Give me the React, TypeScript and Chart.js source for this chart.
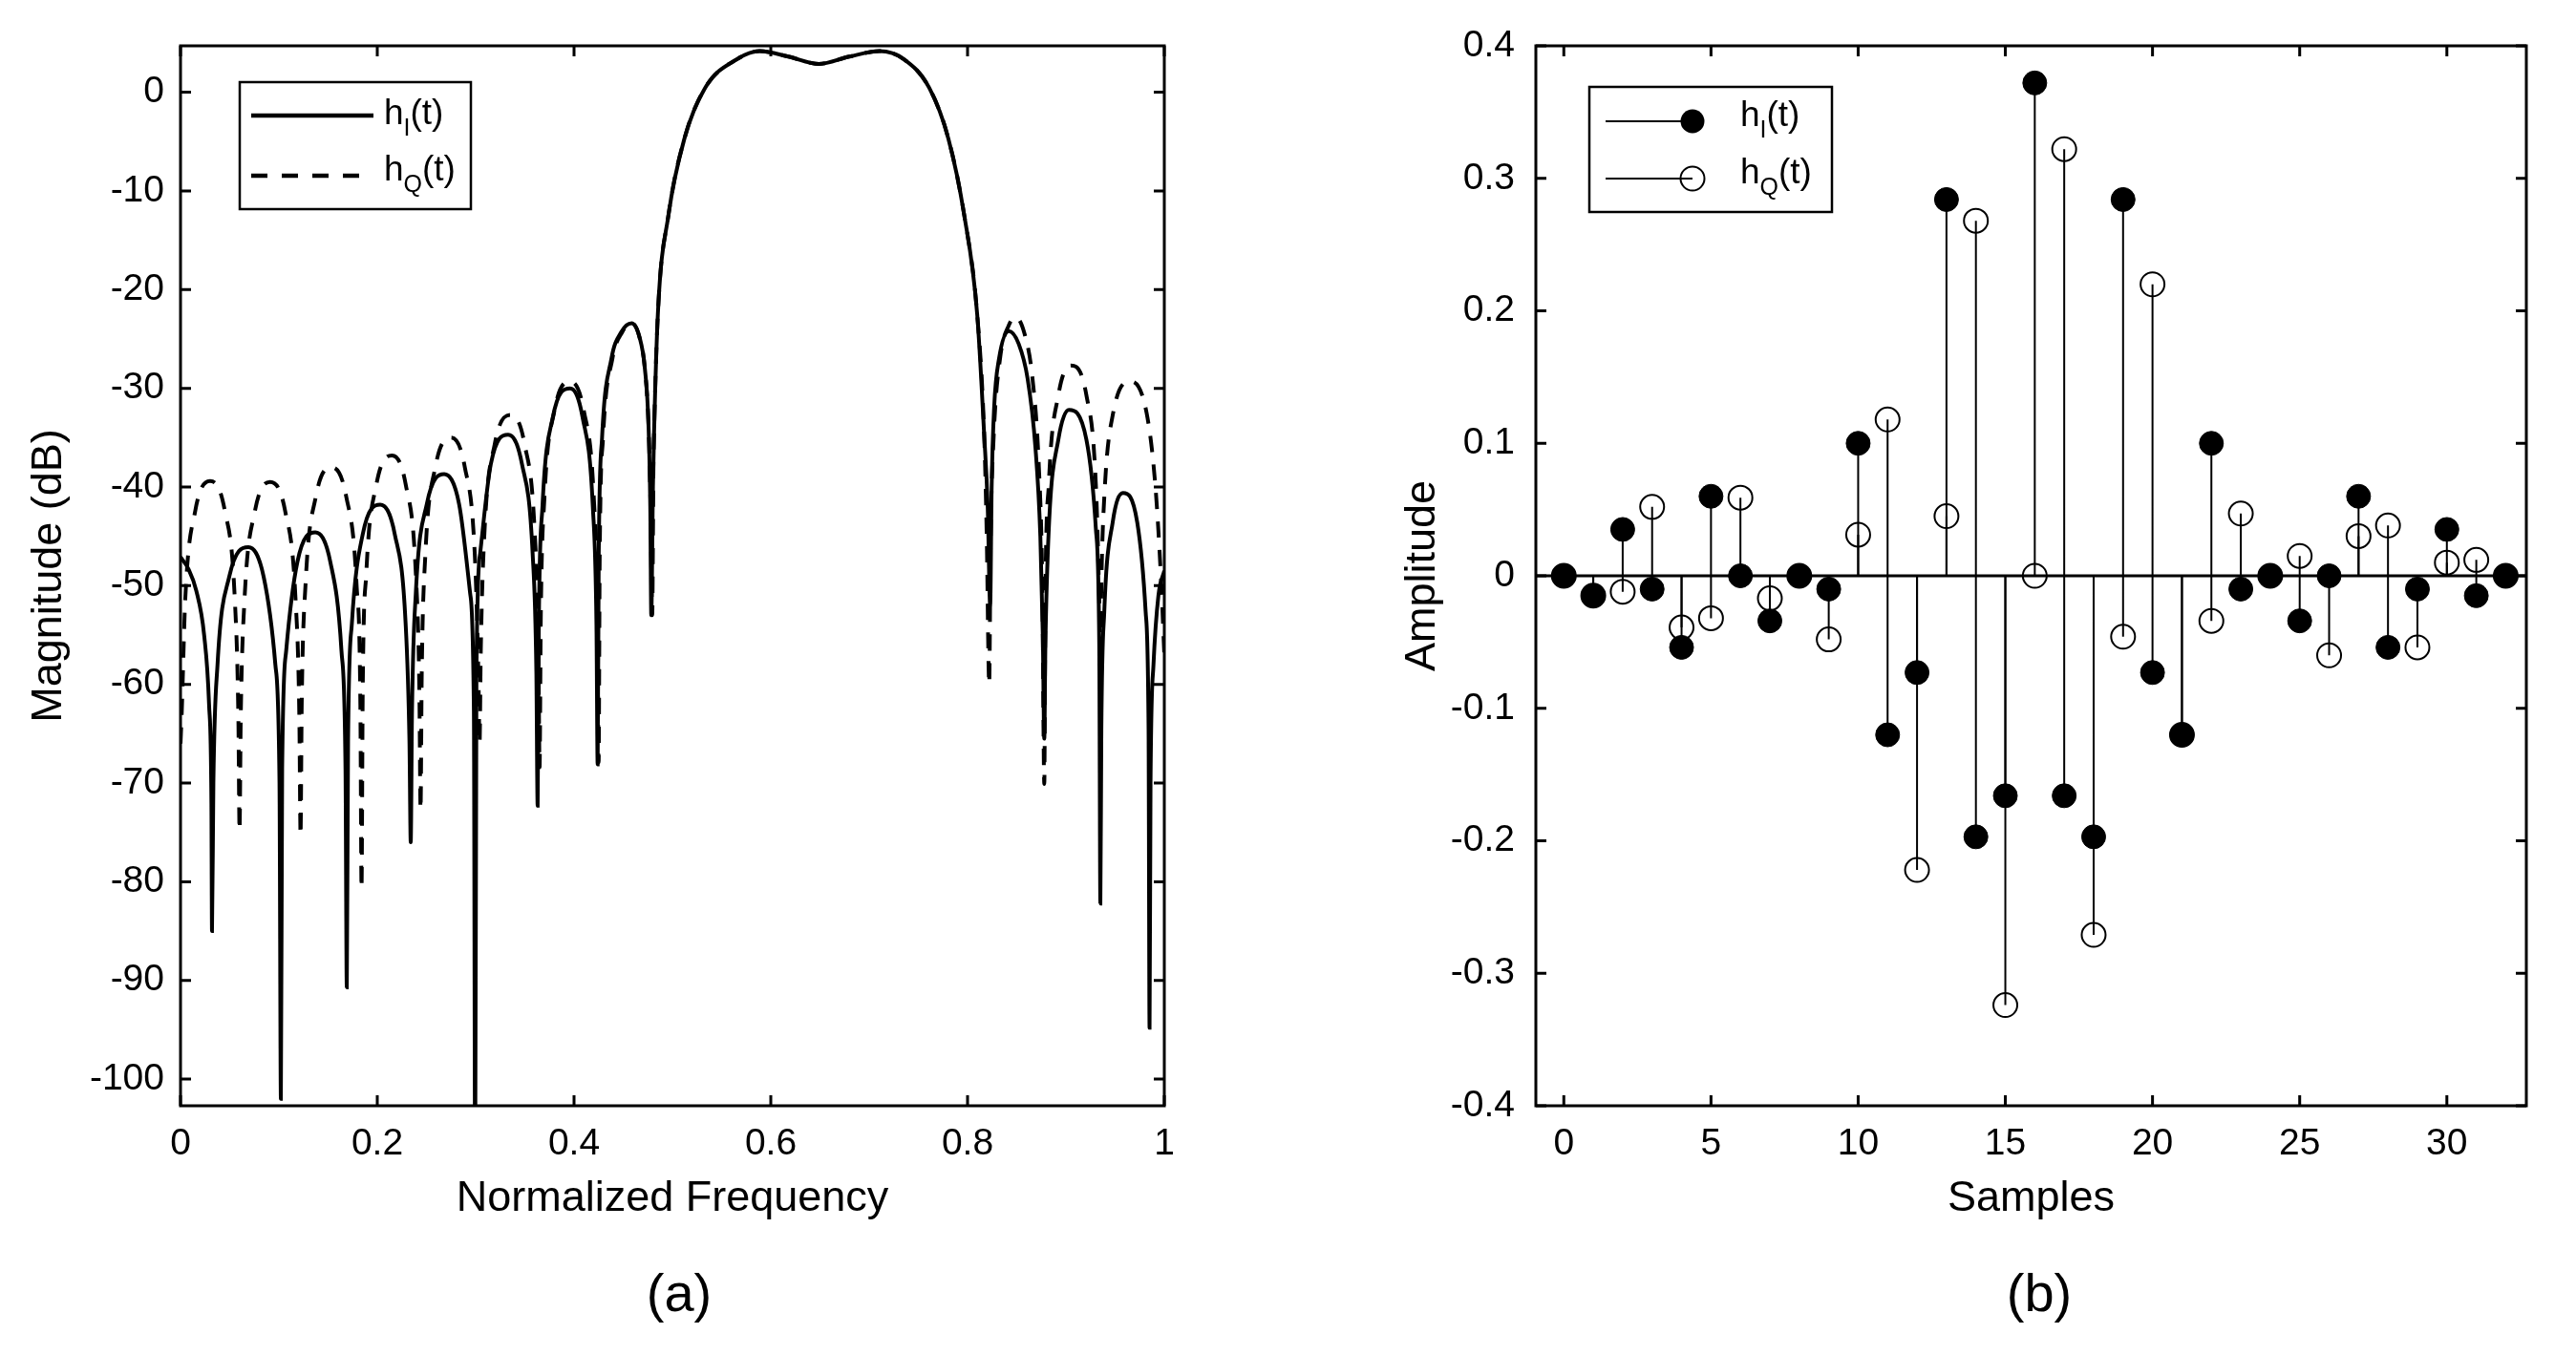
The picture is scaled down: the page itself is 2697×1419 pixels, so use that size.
import React, { useEffect, useRef } from "react";
import { Chart, registerables } from "chart.js";

Chart.register(...registerables);

const FONT = "'Liberation Sans', Arial, Helvetica, sans-serif";

// ---------- Panel (a): magnitude responses ----------
const freqI = [
  0, 0.008, 0.016, 0.024, 0.029, 0.0314, 0.032,
  0.0334, 0.0376, 0.0495, 0.069, 0.0845, 0.0964, 0.1006, 0.102,
  0.1033, 0.1074, 0.1188, 0.137, 0.1523, 0.1636, 0.1677, 0.169,
  0.1703, 0.1742, 0.1852, 0.203, 0.2178, 0.2288, 0.2327, 0.234,
  0.2353, 0.2392, 0.2504, 0.268, 0.2831, 0.2943, 0.2982, 0.2995,
  0.3008, 0.3046, 0.3154, 0.333, 0.3471, 0.3579, 0.3617, 0.363,
  0.3642, 0.3679, 0.3783, 0.396, 0.4088, 0.4191, 0.4228, 0.424,
  0.4251, 0.4285, 0.438, 0.448, 0.4585, 0.4665, 0.472, 0.4758, 0.4775, 0.4785,
  0.4802, 0.4813, 0.4852, 0.4959, 0.5122, 0.5333, 0.5659, 0.5886, 0.6179, 0.6488,
  0.6797, 0.7106, 0.735, 0.761, 0.7805, 0.7967, 0.8098, 0.8169,
  0.8205, 0.823, 0.8245, 0.827, 0.832, 0.842, 0.852, 0.861, 0.869, 0.874, 0.8765, 0.878,
  0.8791, 0.8826, 0.8923, 0.903, 0.9208, 0.9304, 0.9339, 0.935,
  0.936, 0.939, 0.9475, 0.958, 0.9725, 0.981, 0.984, 0.985,
  0.986, 0.989, 0.994, 1.0,
];
const magI = [
  -47.1, -48.3, -50.5, -55, -62, -72, -85,
  -70, -58, -49.1, -46.1, -49.1, -58, -70, -102,
  -68.6, -56.6, -47.6, -44.6, -47.6, -56.6, -68.6, -90.7,
  -65.8, -53.8, -44.8, -41.8, -44.8, -53.8, -65.8, -76,
  -62.7, -50.7, -41.7, -38.7, -41.7, -50.7, -62.7, -110,
  -58.7, -46.7, -37.7, -34.7, -37.7, -46.7, -58.7, -72.3,
  -54, -42, -33, -30, -33, -42, -54, -68.1,
  -47, -35, -27, -24.3, -23.4, -24.8, -28, -34, -42, -53,
  -40, -34.7, -22.5, -12.5, -4.7, 0.45, 3.36, 4.16, 3.61, 2.87,
  3.61, 4.16, 3.36, 0.45, -4.7, -12.5, -22.5, -34.7,
  -42, -52, -40, -32, -27, -24.2, -25.5, -29, -36, -45, -55, -65.5,
  -56.2, -44.2, -35.2, -32.2, -35.2, -44.2, -56.2, -82.2,
  -64.6, -52.6, -43.6, -40.6, -43.6, -52.6, -64.6, -94.8,
  -70, -58, -51, -48.5,
];

const freqQ = [
  0, 0.0012, 0.0048, 0.015, 0.03, 0.045, 0.0552, 0.0588, 0.06,
  0.0612, 0.065, 0.0755, 0.091, 0.1065, 0.117, 0.1208, 0.122,
  0.1232, 0.127, 0.1375, 0.153, 0.1685, 0.179, 0.1828, 0.184,
  0.1852, 0.1888, 0.199, 0.215, 0.229, 0.2392, 0.2428, 0.244,
  0.2452, 0.2488, 0.259, 0.275, 0.289, 0.2992, 0.3028, 0.304,
  0.3052, 0.3089, 0.3193, 0.336, 0.3498, 0.3601, 0.3638, 0.365,
  0.3662, 0.3698, 0.38, 0.396, 0.41, 0.4202, 0.4238, 0.425,
  0.4261, 0.4295, 0.439, 0.449, 0.4585, 0.4665, 0.472, 0.4758, 0.4778, 0.4795,
  0.4807, 0.4813, 0.4852, 0.4959, 0.5122, 0.5333, 0.5659, 0.5886, 0.6179, 0.6488,
  0.6797, 0.7106, 0.735, 0.761, 0.7805, 0.7967, 0.8098, 0.8169,
  0.8195, 0.822, 0.8235, 0.8265, 0.833, 0.842, 0.849, 0.858, 0.866, 0.8725, 0.876, 0.878,
  0.8791, 0.8826, 0.8923, 0.905, 0.9208, 0.9304, 0.9339, 0.935,
  0.936, 0.939, 0.948, 0.966, 0.982, 0.991, 0.997, 1.0,
];
const magQ = [
  -66, -63, -51.4, -42.4, -39.4, -42.4, -51.4, -63.4, -74.8,
  -63.5, -51.5, -42.5, -39.5, -42.5, -51.5, -63.5, -75.3,
  -62, -50, -41, -38, -41, -50, -62, -80.7,
  -60.8, -48.8, -39.8, -36.8, -39.8, -48.8, -60.8, -72.7,
  -59, -47, -38, -35, -38, -47, -59, -66,
  -56.7, -44.7, -35.7, -32.7, -35.7, -44.7, -56.7, -68.4,
  -53.3, -41.3, -32.3, -29.3, -32.3, -41.3, -53.3, -67.9,
  -47, -35, -27, -24.3, -23.4, -24.8, -28, -34, -42, -53,
  -38, -34.7, -22.5, -12.5, -4.7, 0.45, 3.36, 4.16, 3.61, 2.87,
  3.61, 4.16, 3.36, 0.45, -4.7, -12.5, -22.5, -34.7,
  -45, -60, -45, -35, -27, -23.6, -22.8, -24.5, -29, -38, -50, -70.1,
  -51.7, -39.7, -30.7, -27.7, -30.7, -39.7, -51.7, -58,
  -50, -41, -32.5, -29.3, -32.5, -40, -50, -57,
];

const freqTicks = [0, 0.2, 0.4, 0.6, 0.8, 1];
const freqLabels = ["0", "0.2", "0.4", "0.6", "0.8", "1"];
const magTicks = [-100, -90, -80, -70, -60, -50, -40, -30, -20, -10, 0];
const magLabels = ["-100", "-90", "-80", "-70", "-60", "-50", "-40", "-30", "-20", "-10", "0"];

// ---------- Panel (b): impulse responses ----------
const samples = [
  0, 1, 2, 3, 4, 5, 6, 7, 8, 9, 10, 11, 12, 13, 14, 15, 16,
  17, 18, 19, 20, 21, 22, 23, 24, 25, 26, 27, 28, 29, 30, 31, 32,
];
const hI = [
  0, -0.015, 0.035, -0.01, -0.054, 0.06, 0, -0.034, 0, -0.01, 0.1, -0.12, -0.073, 0.284, -0.197, -0.166, 0.372,
  -0.166, -0.197, 0.284, -0.073, -0.12, 0.1, -0.01, 0, -0.034, 0, 0.06, -0.054, -0.01, 0.035, -0.015, 0,
];
const hQ = [
  0, -0.015, -0.012, 0.052, -0.039, -0.032, 0.059, -0.017, 0, -0.048, 0.031, 0.118, -0.222, 0.045, 0.268, -0.324, 0,
  0.322, -0.271, -0.046, 0.22, -0.12, -0.034, 0.047, 0, 0.015, -0.06, 0.03, 0.038, -0.054, 0.01, 0.012, 0,
];

const sampleTicks = [0, 5, 10, 15, 20, 25, 30];
const sampleLabels = ["0", "5", "10", "15", "20", "25", "30"];
const ampTicks = [-0.4, -0.3, -0.2, -0.1, 0, 0.1, 0.2, 0.3, 0.4];
const ampLabels = ["-0.4", "-0.3", "-0.2", "-0.1", "0", "0.1", "0.2", "0.3", "0.4"];

// ---------- helpers ----------
const pairs = (xs: number[], ys: number[]) => xs.map((x, i) => ({ x, y: ys[i] }));
const stemData = (xs: number[], ys: number[]) => {
  const out: { x: number; y: number | null }[] = [];
  xs.forEach((x, i) => {
    out.push({ x, y: 0 });
    out.push({ x, y: ys[i] });
    out.push({ x, y: null });
  });
  return out;
};
const labelFor = (vals: number[], labels: string[]) => (v: any) => {
  const i = vals.findIndex((t) => Math.abs(t - Number(v)) < 1e-9);
  return i >= 0 ? labels[i] : "";
};

function makeScale(
  min: number,
  max: number,
  ticks: number[],
  labels: string[],
  horizontal: boolean,
  size: number,
  labelPad: number,
  title: string,
  titlePad: any
) {
  return {
    type: "linear",
    min,
    max,
    afterBuildTicks: (s: any) => {
      s.ticks = ticks.map((v) => ({ value: v }));
    },
    afterFit: (s: any) => {
      if (horizontal) s.height = size;
      else s.width = size;
    },
    grid: { display: false, drawTicks: false },
    border: { display: false },
    ticks: {
      autoSkip: false,
      maxRotation: 0,
      minRotation: 0,
      padding: labelPad,
      color: "#000",
      font: { family: FONT, size: 39 },
      callback: labelFor(ticks, labels),
    },
    title: {
      display: true,
      text: title,
      color: "#000",
      font: { family: FONT, size: 45 },
      padding: titlePad,
    },
  };
}

function framePlugin(id: string) {
  return {
    id,
    afterDatasetsDraw(chart: any) {
      const { ctx, chartArea: a, scales } = chart;
      ctx.save();
      ctx.strokeStyle = "#000";
      ctx.lineWidth = 3;
      ctx.setLineDash([]);
      ctx.strokeRect(a.left, a.top, a.right - a.left, a.bottom - a.top);
      const tl = 11;
      ctx.beginPath();
      for (const t of scales.x.ticks) {
        const px = scales.x.getPixelForValue(t.value);
        ctx.moveTo(px, a.bottom);
        ctx.lineTo(px, a.bottom - tl);
        ctx.moveTo(px, a.top);
        ctx.lineTo(px, a.top + tl);
      }
      for (const t of scales.y.ticks) {
        const py = scales.y.getPixelForValue(t.value);
        ctx.moveTo(a.left, py);
        ctx.lineTo(a.left + tl, py);
        ctx.moveTo(a.right, py);
        ctx.lineTo(a.right - tl, py);
      }
      ctx.stroke();
      ctx.restore();
    },
  };
}

function drawName(ctx: CanvasRenderingContext2D, x: number, baseline: number, sub: string) {
  ctx.fillStyle = "#000";
  ctx.textAlign = "left";
  ctx.textBaseline = "alphabetic";
  ctx.font = `37px ${FONT}`;
  ctx.fillText("h", x, baseline);
  const w1 = ctx.measureText("h").width;
  ctx.font = `25px ${FONT}`;
  ctx.fillText(sub, x + w1, baseline + 12);
  const w2 = ctx.measureText(sub).width;
  ctx.font = `37px ${FONT}`;
  ctx.fillText("(t)", x + w1 + w2, baseline);
}

const legendA = {
  id: "legendA",
  afterDraw(chart: any) {
    const ctx = chart.ctx as CanvasRenderingContext2D;
    ctx.save();
    ctx.fillStyle = "#fff";
    ctx.fillRect(251, 86, 242, 133);
    ctx.strokeStyle = "#000";
    ctx.lineWidth = 2.5;
    ctx.strokeRect(251, 86, 242, 133);
    ctx.lineWidth = 4.5;
    ctx.beginPath();
    ctx.moveTo(263, 121);
    ctx.lineTo(391, 121);
    ctx.stroke();
    ctx.setLineDash([17, 15]);
    ctx.beginPath();
    ctx.moveTo(263, 184);
    ctx.lineTo(391, 184);
    ctx.stroke();
    ctx.setLineDash([]);
    drawName(ctx, 402, 130, "I");
    drawName(ctx, 402, 189, "Q");
    ctx.restore();
  },
};

const stemExtras = {
  id: "stemExtras",
  beforeDatasetsDraw(chart: any) {
    const { ctx, chartArea: a, scales } = chart;
    const y0 = scales.y.getPixelForValue(0);
    ctx.save();
    ctx.strokeStyle = "#000";
    ctx.lineWidth = 3;
    ctx.beginPath();
    ctx.moveTo(a.left, y0);
    ctx.lineTo(a.right, y0);
    ctx.stroke();
    ctx.restore();
  },
  afterDraw(chart: any) {
    const ctx = chart.ctx as CanvasRenderingContext2D;
    ctx.save();
    ctx.fillStyle = "#fff";
    ctx.fillRect(314, 91, 254, 131);
    ctx.strokeStyle = "#000";
    ctx.lineWidth = 2.5;
    ctx.strokeRect(314, 91, 254, 131);
    ctx.lineWidth = 2;
    ctx.beginPath();
    ctx.moveTo(331, 127);
    ctx.lineTo(422, 127);
    ctx.moveTo(331, 187);
    ctx.lineTo(422, 187);
    ctx.stroke();
    ctx.fillStyle = "#000";
    ctx.beginPath();
    ctx.arc(422, 127, 12.5, 0, Math.PI * 2);
    ctx.fill();
    ctx.beginPath();
    ctx.arc(422, 187, 12.5, 0, Math.PI * 2);
    ctx.stroke();
    drawName(ctx, 472, 132, "I");
    drawName(ctx, 472, 192, "Q");
    ctx.restore();
  },
};

export default function App() {
  const refA = useRef<HTMLCanvasElement | null>(null);
  const refB = useRef<HTMLCanvasElement | null>(null);

  useEffect(() => {
    const chartA = new Chart(refA.current as HTMLCanvasElement, {
      type: "scatter",
      data: {
        datasets: [
          {
            label: "hQ(t)",
            data: pairs(freqQ, magQ),
            showLine: true,
            borderColor: "#000",
            borderWidth: 4,
            borderDash: [17, 13],
            pointRadius: 0,
            cubicInterpolationMode: "monotone",
          },
          {
            label: "hI(t)",
            data: pairs(freqI, magI),
            showLine: true,
            borderColor: "#000",
            borderWidth: 4,
            pointRadius: 0,
            cubicInterpolationMode: "monotone",
          },
        ],
      } as any,
      options: {
        animation: false,
        responsive: false,
        events: [],
        layout: { padding: { top: 48, right: 81, left: 0, bottom: 0 } },
        plugins: { legend: { display: false }, tooltip: { enabled: false } },
        scales: {
          x: makeScale(0, 1, freqTicks, freqLabels, true, 142, 17, "Normalized Frequency", { top: 0, bottom: 17 }),
          y: makeScale(-102.7, 4.7, magTicks, magLabels, false, 189, 17, "Magnitude (dB)", { top: 25, bottom: 0 }),
        },
      } as any,
      plugins: [framePlugin("frameA"), legendA],
    });

    const chartB = new Chart(refB.current as HTMLCanvasElement, {
      type: "scatter",
      data: {
        datasets: [
          {
            label: "hI markers",
            data: pairs(samples, hI),
            pointRadius: 12.5,
            pointBackgroundColor: "#000",
            pointBorderColor: "#000",
            pointBorderWidth: 1,
            showLine: false,
          },
          {
            label: "hQ markers",
            data: pairs(samples, hQ),
            pointRadius: 12.5,
            pointBackgroundColor: "rgba(0,0,0,0)",
            pointBorderColor: "#000",
            pointBorderWidth: 2,
            showLine: false,
          },
          {
            label: "hI stems",
            data: stemData(samples, hI),
            showLine: true,
            spanGaps: false,
            borderColor: "#000",
            borderWidth: 2,
            pointRadius: 0,
          },
          {
            label: "hQ stems",
            data: stemData(samples, hQ),
            showLine: true,
            spanGaps: false,
            borderColor: "#000",
            borderWidth: 2,
            pointRadius: 0,
          },
        ],
      } as any,
      options: {
        animation: false,
        responsive: false,
        events: [],
        layout: { padding: { top: 48, right: 52, left: 0, bottom: 0 } },
        plugins: { legend: { display: false }, tooltip: { enabled: false } },
        scales: {
          x: makeScale(-0.95, 32.7, sampleTicks, sampleLabels, true, 142, 17, "Samples", { top: 0, bottom: 17 }),
          y: makeScale(-0.4, 0.4, ampTicks, ampLabels, false, 258, 22, "Amplitude", { top: 113, bottom: 0 }),
        },
      } as any,
      plugins: [framePlugin("frameB"), stemExtras],
    });

    return () => {
      chartA.destroy();
      chartB.destroy();
    };
  }, []);

  const cap: React.CSSProperties = {
    position: "absolute",
    top: 1354,
    transform: "translate(-50%, -50%)",
    fontFamily: FONT,
    fontSize: 56,
    color: "#000",
    lineHeight: 1,
    whiteSpace: "nowrap",
  };

  return (
    <div
      style={{
        position: "fixed",
        left: 0,
        top: 0,
        width: 2697,
        height: 1419,
        background: "#fff",
        overflow: "hidden",
      }}
    >
      <canvas
        ref={refA}
        width={1300}
        height={1300}
        style={{ position: "absolute", left: 0, top: 0, width: 1300, height: 1300 }}
      />
      <canvas
        ref={refB}
        width={1347}
        height={1300}
        style={{ position: "absolute", left: 1350, top: 0, width: 1347, height: 1300 }}
      />
      <div style={{ ...cap, left: 711 }}>(a)</div>
      <div style={{ ...cap, left: 2135 }}>(b)</div>
    </div>
  );
}
